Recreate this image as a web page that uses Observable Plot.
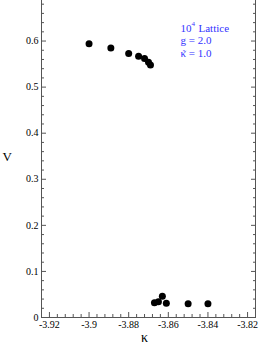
<!DOCTYPE html>
<html><head><meta charset="utf-8">
<script src="https://cdn.jsdelivr.net/npm/d3@7"></script>
<script src="https://cdn.jsdelivr.net/npm/@observablehq/plot@0.6"></script>
<style>body{margin:0;background:#fff} svg{display:block}</style>
</head><body><div id="chart"></div>
<script>
const kappaUpper = [-3.900, -3.889, -3.880, -3.875, -3.872, -3.870, -3.869];
const vUpper     = [0.594, 0.585, 0.573, 0.567, 0.562, 0.554, 0.548];
const kappaLower = [-3.867, -3.865, -3.863, -3.861, -3.850, -3.840];
const vLower     = [0.032, 0.034, 0.046, 0.031, 0.030, 0.030];
const xMajor = [-3.92, -3.9, -3.88, -3.86, -3.84, -3.82];
const yMajor = [0, 0.1, 0.2, 0.3, 0.4, 0.5, 0.6];
const legendBase = "10", legendExp = "4", legendRest = "Lattice";
const legendG = "g = 2.0";
const legendKappa = "\u03BA = 1.0";
const xDomain = [-3.924, -3.816];
const yDomain = [0, 0.688];

const xMinor = d3.range(0, 28).map(i => +(xDomain[0] + 0.004 * i).toFixed(3)).filter(v => v > xDomain[0] && v < xDomain[1] && !xMajor.some(m => Math.abs(m - v) < 1e-6));
const yMinor = d3.range(0, 35).map(i => +(0.02 * i).toFixed(2)).filter(v => v > 0 && v < yDomain[1] && !yMajor.some(m => Math.abs(m - v) < 1e-6));

const points = [
  ...kappaUpper.map((k, i) => ({k, v: vUpper[i]})),
  ...kappaLower.map((k, i) => ({k, v: vLower[i]}))
];
const axisColor = "#555";
const blue = "#3333ff";
const fmt = d => String(d);
const legendText = (t, dx, dy, size, anchor = "start") => Plot.text([t], {frameAnchor: "top-left", dx, dy, lineAnchor: "bottom", textAnchor: anchor, fontSize: size, fill: blue});

const chart = Plot.plot({
  width: 277, height: 358,
  marginLeft: 41, marginRight: 22, marginTop: 0, marginBottom: 41,
  style: {fontFamily: "'Liberation Serif', 'DejaVu Serif', serif", fontSize: "10px", background: "#fff", color: "#000"},
  x: {domain: xDomain, axis: null},
  y: {domain: yDomain, axis: null},
  marks: [
    Plot.ruleX(xDomain, {stroke: axisColor}),
    Plot.ruleY([0], {stroke: axisColor}),
    Plot.axisX(xMajor, {tickSize: 5, dy: -5, fill: "none", stroke: axisColor, label: null}),
    Plot.axisX(xMinor, {tickSize: 3, dy: -3, fill: "none", stroke: axisColor, label: null}),
    Plot.axisX(xMajor, {tickSize: 0, tickPadding: 3, tickFormat: fmt, label: null, fill: "#000"}),
    Plot.axisY(yMajor, {anchor: "left", tickSize: 5, dx: 5, fill: "none", stroke: axisColor, label: null}),
    Plot.axisY(yMinor, {anchor: "left", tickSize: 3, dx: 3, fill: "none", stroke: axisColor, label: null}),
    Plot.axisY(yMajor, {anchor: "right", tickSize: 5, dx: -5, fill: "none", stroke: axisColor, label: null}),
    Plot.axisY(yMinor, {anchor: "right", tickSize: 3, dx: -3, fill: "none", stroke: axisColor, label: null}),
    Plot.axisY(yMajor, {anchor: "left", tickSize: 0, tickPadding: 3, tickFormat: fmt, label: null, fill: "#000"}),
    Plot.dot(points, {x: "k", y: "v", r: 3.5, fill: "#000", stroke: null}),
    Plot.text(["V"], {frameAnchor: "left", dx: -39, dy: -2, textAnchor: "start", fontSize: 13, fill: "#000"}),
    Plot.text(["\u03BA"], {frameAnchor: "bottom", dx: -4, dy: 24, lineAnchor: "bottom", fontSize: 14, fill: "#000"}),
    legendText(legendBase, 139, 31, 11),
    legendText(legendExp, 150, 25.5, 7),
    legendText(legendRest, 157, 31, 11),
    legendText(legendG, 139, 43.5, 11),
    legendText(legendKappa, 139, 56, 11),
    legendText("\u02DC", 143, 57, 10, "middle")
  ]
});
document.getElementById("chart").appendChild(chart);
</script>
</body></html>
